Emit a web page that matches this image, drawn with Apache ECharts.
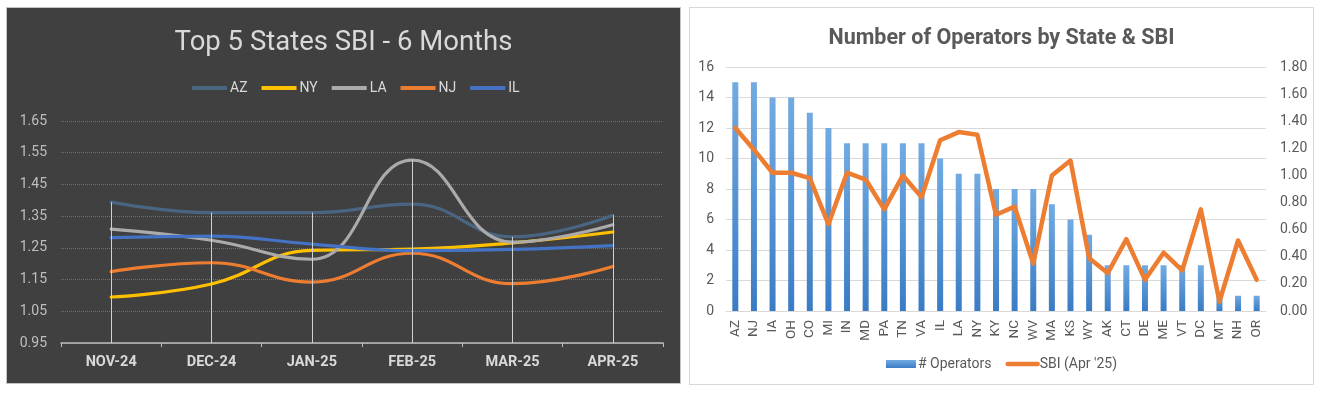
<!DOCTYPE html>
<html>
<head>
<meta charset="utf-8">
<script src="https://cdn.jsdelivr.net/npm/echarts@6/dist/echarts.min.js"></script>
<style>
  html, body { margin: 0; padding: 0; background: #ffffff; width: 1321px; height: 394px; overflow: hidden; }
  .panel { position: absolute; box-sizing: border-box; }
  #p1 { left: 6px; top: 7px; width: 675px; height: 377px; border: 1px solid #c4c4c4; background: #404040; }
  #p2 { left: 689px; top: 7px; width: 625px; height: 378px; border: 1px solid #d9d9d9; background: #ffffff; }
  .chart { position: absolute; left: 0; top: 0; width: 100%; height: 100%; }
</style>
</head>
<body>
<div id="p1" class="panel"><div id="c1" class="chart"></div></div>
<div id="p2" class="panel"><div id="c2" class="chart"></div></div>
<script>
// ---------- Left chart data ----------
const months = ['NOV-24', 'DEC-24', 'JAN-25', 'FEB-25', 'MAR-25', 'APR-25'];
const seriesNames = ['AZ', 'NY', 'LA', 'NJ', 'IL'];
const azSBI = [1.394, 1.361, 1.361, 1.388, 1.285, 1.353];
const nySBI = [1.095, 1.136, 1.242, 1.246, 1.266, 1.300];
const laSBI = [1.309, 1.274, 1.214, 1.527, 1.268, 1.323];
const njSBI = [1.175, 1.203, 1.142, 1.233, 1.137, 1.191];
const ilSBI = [1.282, 1.287, 1.262, 1.241, 1.245, 1.257];
const leftTicks = { min: 0.95, max: 1.65, step: 0.1 };

// ---------- Right chart data ----------
const states = ['AZ','NJ','IA','OH','CO','MI','IN','MD','PA','TN','VA','IL','LA','NY','KY','NC','WV','MA','KS','WY','AK','CT','DE','ME','VT','DC','MT','NH','OR'];
const operators = [15,15,14,14,13,12,11,11,11,11,11,10,9,9,8,8,8,7,6,5,3,3,3,3,3,3,1,1,1];
const sbiApr = [1.35,1.19,1.02,1.02,0.98,0.64,1.02,0.97,0.75,1.00,0.84,1.26,1.32,1.30,0.71,0.77,0.35,1.00,1.11,0.39,0.28,0.53,0.23,0.43,0.30,0.75,0.07,0.52,0.23];
const opTicks = { min: 0, max: 16, step: 2 };
const sbiTicks = { min: 0, max: 1.8, step: 0.2 };

const FONT = "'Roboto', sans-serif";

// ---------- Left chart ----------
const leftColors = ['#4A6582', '#FFC000', '#ABABAB', '#ED7D31', '#4472C4'];
const leftData = [azSBI, nySBI, laSBI, njSBI, ilSBI];
const maxPerMonth = months.map((m, i) => Math.max(...leftData.map(d => d[i])));

const c1 = echarts.init(document.getElementById('c1'));
c1.setOption({
  backgroundColor: '#404040',
  animation: false,
  textStyle: { fontFamily: FONT },
  title: {
    text: 'Top 5 States SBI - 6 Months', left: 'center', top: 16,
    textStyle: { color: '#d9d9d9', fontSize: 27.5, fontWeight: 'normal', fontFamily: FONT }
  },
  legend: {
    data: seriesNames, left: 180, top: 68, icon: 'rect',
    itemWidth: 35, itemHeight: 4, itemGap: 14,
    textStyle: { color: '#d9d9d9', fontSize: 14, fontFamily: FONT, padding: [0, 0, 0, -2] }
  },
  grid: { left: 54, top: 113, width: 602, height: 222, containLabel: false },
  xAxis: {
    type: 'category', data: months, boundaryGap: true,
    axisLine: { lineStyle: { color: '#bfbfbf', width: 1.5 } },
    axisTick: { show: true, length: 4, lineStyle: { color: '#bfbfbf' } },
    axisLabel: { color: '#d9d9d9', fontWeight: 'bold', fontSize: 14.5, margin: 12, fontFamily: FONT },
    splitLine: { show: false }
  },
  yAxis: {
    type: 'value', min: leftTicks.min, max: leftTicks.max, interval: leftTicks.step,
    axisLine: { show: false }, axisTick: { show: false },
    axisLabel: { color: '#bfbfbf', fontSize: 14, margin: 14, fontFamily: FONT, formatter: v => v.toFixed(2) },
    splitLine: { lineStyle: { color: '#707070', type: 'dotted', width: 1 } }
  },
  series: [
    {
      name: '__drop', type: 'line', data: [], z: 1, silent: true,
      markLine: {
        silent: true, symbol: 'none', animation: false,
        label: { show: false },
        lineStyle: { color: '#d0d0d0', width: 1, type: 'solid' },
        data: months.map((m, i) => [{ coord: [m, maxPerMonth[i]] }, { coord: [m, leftTicks.min] }])
      }
    }
  ].concat(seriesNames.map((n, k) => ({
    name: n, type: 'line', data: leftData[k], smooth: 0.45, symbol: 'none', z: 3,
    lineStyle: { color: leftColors[k], width: 3.2, cap: 'round' },
    itemStyle: { color: leftColors[k] }
  })))
});

// ---------- Right chart ----------
const c2 = echarts.init(document.getElementById('c2'));
c2.setOption({
  backgroundColor: '#ffffff',
  animation: false,
  textStyle: { fontFamily: FONT },
  title: {
    text: 'Number of Operators by State & SBI', left: 'center', top: 15,
    textStyle: { color: '#595959', fontSize: 21.5, fontWeight: 'bold', fontFamily: FONT }
  },
  legend: {
    data: [
      { name: '# Operators', icon: 'rect' },
      { name: "SBI (Apr '25)", itemStyle: { opacity: 0 }, lineStyle: { width: 4.5, color: '#ED7D31' } }
    ],
    left: 'center', top: 344, itemWidth: 30, itemHeight: 8, itemGap: 14,
    textStyle: { color: '#595959', fontSize: 14, fontFamily: FONT, padding: [0, 0, 0, -3] }
  },
  grid: { left: 36, top: 59, width: 540, height: 244, containLabel: false },
  xAxis: {
    type: 'category', data: states, boundaryGap: true,
    axisLine: { lineStyle: { color: '#d9d9d9', width: 1 } },
    axisTick: { show: false },
    axisLabel: { rotate: 90, interval: 0, color: '#595959', fontSize: 13.5, margin: 9, fontFamily: FONT }
  },
  yAxis: [
    {
      type: 'value', min: opTicks.min, max: opTicks.max, interval: opTicks.step,
      axisLine: { show: false }, axisTick: { show: false },
      axisLabel: { color: '#595959', fontSize: 14, margin: 12, fontFamily: FONT },
      splitLine: { lineStyle: { color: '#d9d9d9', width: 1 } }
    },
    {
      type: 'value', min: sbiTicks.min, max: sbiTicks.max, interval: sbiTicks.step,
      axisLine: { show: false }, axisTick: { show: false },
      axisLabel: { color: '#595959', fontSize: 14, margin: 14, fontFamily: FONT, formatter: v => v.toFixed(2) },
      splitLine: { show: false }
    }
  ],
  series: [
    {
      name: '# Operators', type: 'bar', data: operators, yAxisIndex: 0, barWidth: 6, z: 2,
      itemStyle: {
        color: new echarts.graphic.LinearGradient(0, 0, 0, 1, [
          { offset: 0, color: '#72abe2' },
          { offset: 1, color: '#3a7cc4' }
        ])
      }
    },
    {
      name: "SBI (Apr '25)", type: 'line', data: sbiApr, yAxisIndex: 1, symbol: 'none', z: 3,
      lineStyle: { color: '#ED7D31', width: 4.5, join: 'round', cap: 'round' },
      itemStyle: { color: '#ED7D31' }
    }
  ]
});
</script>
</body>
</html>
